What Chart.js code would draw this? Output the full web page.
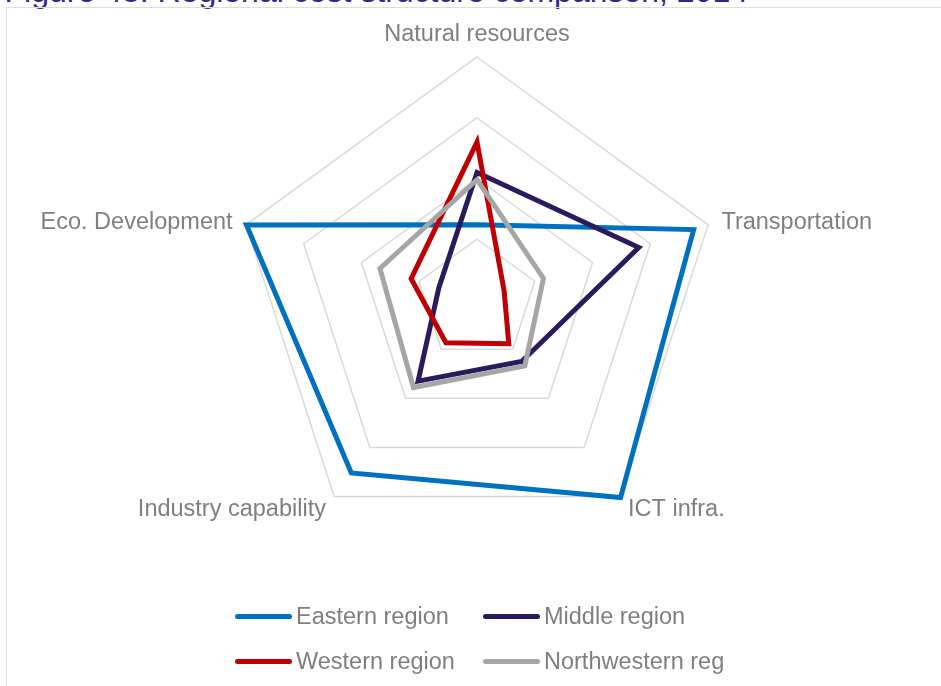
<!DOCTYPE html>
<html>
<head>
<meta charset="utf-8">
<script src="https://cdn.jsdelivr.net/npm/chart.js@4.4.0/dist/chart.umd.min.js"></script>
<style>
  html, body { margin: 0; padding: 0; background: #fff; overflow: hidden; }
  body { width: 941px; height: 686px; position: relative; font-family: "Liberation Sans", Arial, sans-serif; }
  #title { position: absolute; left: 4.5px; top: -25px; font-size: 32px; line-height: 32px; color: #3a2390; white-space: nowrap; }
  #frame { position: absolute; left: 6px; top: 7px; width: 2000px; height: 2000px; border: 1.5px solid #dedede; }
  #radarChart { position: absolute; left: 0; top: 0; }
  #legend { position: absolute; left: 235px; top: 594px; width: 489px; overflow: hidden;
            display: grid; grid-template-columns: 248px 241px; grid-auto-rows: 45px; }
  .item { display: flex; align-items: center; white-space: nowrap; overflow: hidden; }
  .swatch { width: 57px; height: 5px; border-radius: 3px; flex: none; }
  .text { margin-left: 4px; font-size: 23.5px; color: #7f7f7f; }
</style>
</head>
<body>
<div id="title">Figure 48: Regional cost structure comparison, 2014</div>
<div id="frame"></div>
<canvas id="radarChart" width="941" height="686"></canvas>
<div id="legend"></div>
<script>
// axis order runs clockwise from the top
const categories = ['Natural resources', 'Transportation', 'ICT infra.', 'Industry capability', 'Eco. Development'];
const seriesNames = ['Eastern region', 'Middle region', 'Western region', 'Northwestern region'];
const eastern = [1.24, 3.75, 4.02, 3.52, 3.99];
const middle = [2.10, 2.80, 1.25, 1.65, 0.66];
const western = [2.60, 0.47, 0.89, 0.87, 1.14];
const northwestern = [1.98, 1.15, 1.34, 1.78, 1.68];
const scaleTicks = [0, 1, 2, 3, 4];

// Excel-like point labels: centered vertically on the spoke end
const pointLabelPlugin = {
  id: 'pointLabelPlugin',
  afterDraw(chart) {
    const scale = chart.scales.r;
    const ctx = chart.ctx;
    ctx.save();
    ctx.font = '23.5px "Liberation Sans", Arial, sans-serif';
    ctx.fillStyle = '#7f7f7f';
    ctx.textBaseline = 'middle';
    chart.data.labels.forEach((label, i) => {
      const deg = Math.round(scale.getIndexAngle(i) * 180 / Math.PI) % 360;
      const pos = scale.getPointPosition(i, scale.drawingArea + (deg === 0 ? 24 : 14));
      ctx.textAlign = (deg === 0 || deg === 180) ? 'center' : (deg < 180 ? 'left' : 'right');
      ctx.fillText(label, pos.x, pos.y + 2);
    });
    ctx.restore();
  }
};

document.addEventListener('DOMContentLoaded', () => {
  const colors = ['#0070c0', '#2b1b5e', '#c00000', '#a6a6a6'];
  const values = [eastern, middle, western, northwestern];

  const chart = new Chart(document.getElementById('radarChart').getContext('2d'), {
    type: 'radar',
    data: {
      labels: categories,
      datasets: values.map((data, i) => ({
        label: seriesNames[i],
        data: data,
        borderColor: colors[i],
        backgroundColor: colors[i],
        borderWidth: 5,
        fill: false,
        pointRadius: 0,
        order: values.length - i // later series on top, like Excel
      }))
    },
    options: {
      responsive: false,
      animation: false,
      layout: { padding: { left: 234, right: 221, top: 57, bottom: 143 } },
      plugins: {
        legend: { display: false },
        tooltip: { enabled: false }
      },
      scales: {
        r: {
          min: scaleTicks[0],
          max: scaleTicks[scaleTicks.length - 1],
          ticks: { display: false, stepSize: 1 },
          grid: { color: '#d9d9d9', lineWidth: 1.5 },
          angleLines: { display: false },
          pointLabels: { display: false }
        }
      }
    },
    plugins: [pointLabelPlugin]
  });

  // legend in two rows of two
  const legend = document.getElementById('legend');
  chart.data.datasets.forEach(ds => {
    const item = document.createElement('div');
    item.className = 'item';
    item.innerHTML = '<span class="swatch" style="background:' + ds.borderColor + '"></span>' +
                     '<span class="text">' + ds.label + '</span>';
    legend.appendChild(item);
  });
});
</script>
</body>
</html>
